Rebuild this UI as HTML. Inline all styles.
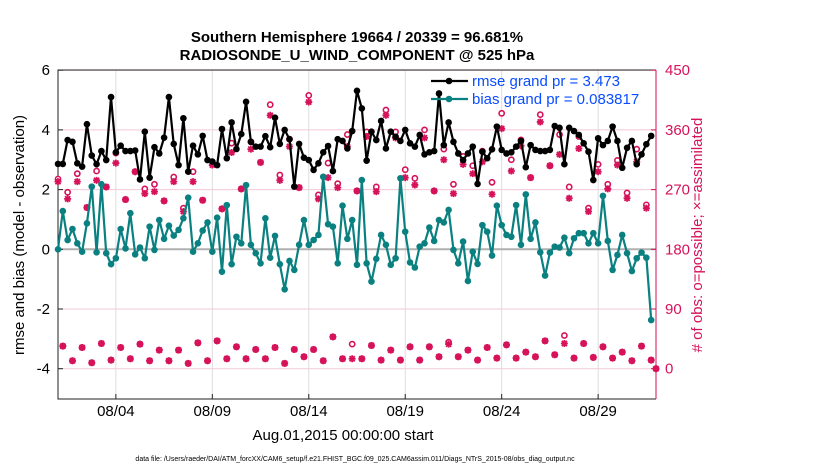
<!DOCTYPE html>
<html><head><meta charset="utf-8"><style>
body{margin:0;background:#fff;}
svg{display:block;font-family:"Liberation Sans",sans-serif;}
</style></head><body>
<svg id="chart" width="830" height="470" viewBox="0 0 830 470" xmlns="http://www.w3.org/2000/svg">
<rect width="830" height="470" fill="#fff"/>
<g id="grid"></g>
<g id="axes"></g>
<g id="obs"></g>
<g id="series"></g>
<text x="357" y="42" text-anchor="middle" font-size="15" font-weight="bold">Southern Hemisphere 19664 / 20339 = 96.681%</text>
<text x="357" y="60" text-anchor="middle" font-size="15" font-weight="bold">RADIOSONDE_U_WIND_COMPONENT @ 525 hPa</text>
<text x="343" y="440" text-anchor="middle" font-size="15">Aug.01,2015 00:00:00 start</text>
<text transform="translate(24,235) rotate(-90)" text-anchor="middle" font-size="15">rmse and bias (model - observation)</text>
<text transform="translate(702,235) rotate(-90)" text-anchor="middle" font-size="15" fill="#d6125a"># of obs: o=possible; ×=assimilated</text>
<text x="355" y="461" text-anchor="middle" font-size="7">data file: /Users/raeder/DAI/ATM_forcXX/CAM6_setup/f.e21.FHIST_BGC.f09_025.CAM6assim.011/Diags_NTrS_2015-08/obs_diag_output.nc</text>
<g id="legend"></g>
</svg>
<script>
const rmse=[2.86,2.86,3.66,3.6,2.88,2.77,4.19,3.14,2.85,3.29,2.99,5.1,3.25,3.47,3.29,3.29,3.31,2.34,3.94,2.4,3.42,3.21,3.74,5.1,3.53,2.82,4.39,2.6,3.47,3.18,3.8,2.99,
2.94,2.82,4.03,3.05,4.25,3.36,3.86,4.94,3.6,3.44,3.44,3.79,3.42,4.41,3.53,4.0,3.69,2.1,3.53,3.07,2.99,2.66,2.88,3.25,3.46,2.62,3.69,3.63,3.38,3.96,5.31,
4.72,2.97,3.94,3.66,4.3,3.38,3.94,3.77,3.63,4.0,3.55,3.44,3.83,3.18,3.25,3.29,5.22,3.49,4.25,3.6,3.21,2.99,3.21,3.44,2.19,3.27,3.05,3.35,4.11,3.33,3.21,
3.25,3.44,3.63,2.75,3.49,3.33,3.29,3.29,3.33,4.13,4.07,2.85,4.07,3.96,3.83,3.55,3.27,2.32,3.72,3.49,3.63,4.11,3.63,2.73,3.4,3.63,2.85,3.18,3.52,3.8];
const bias=[0,1.28,0.31,0.68,0.2,-0.08,0.87,2.1,-0.1,2.18,-0.13,-0.5,-0.3,0.68,0.03,1.21,-0.17,0.06,-0.3,0.76,-0.02,0.98,0.35,0.79,0.46,0.65,1.04,1.73,-0.08,0.2,0.63,0.9,
-0.08,1.06,-0.75,1.48,-0.5,0.42,0.2,2.15,0.15,-0.13,-0.47,1.04,-0.28,0.45,-0.5,-1.34,-0.39,-0.69,0.15,0.98,0.15,0.31,0.48,2.43,0.84,0.76,-0.47,1.46,0.35,0.98,
-0.52,2.32,-0.47,-1.08,-0.32,0.48,0.15,-0.52,-0.3,2.38,0.59,-0.44,-0.61,0.09,0.2,0.73,0.28,0.98,0.9,1.32,-0.02,-0.47,0.26,-1.06,-0.08,-0.49,0.81,0.59,-0.21,1.46,0.81,0.48,
0.42,1.48,0.15,1.84,0.35,0.9,-0.1,-0.88,-0.11,0.09,0.06,0.39,-0.13,0.37,0.54,0.54,0.2,0.54,0.2,1.79,0.28,-0.69,-0.19,0.48,-0.13,-0.73,-0.3,-0.11,-0.28,-2.37];
const assimilated=[282,34,256,12,282,32,243,9,284,38,274,13,310,32,255,15,297,37,264,12,267,28,253,12,282,28,237,8,282,39,254,12,
307,42,241,15,326,33,271,15,331,29,311,15,382,32,284,8,335,29,273,18,402,29,256,12,288,48,273,15,335,15,
268,15,350,35,267,13,382,28,348,13,288,33,277,13,348,33,268,18,315,37,264,18,308,28,294,13,312,32,263,16,362,36,
298,16,336,25,288,18,372,42,306,21,323,38,257,16,332,38,237,17,297,33,271,16,307,25,257,12,312,34,242,13,0];
const possibleOverrides={0:286,2:266,4:294,8:298,12:325,18:271,20:278,24:289,26:242,28:297,32:312,36:340,40:342,44:398,46:292,48:346,52:412,54:262,56:310,58:279,60:353,61:37,64:357,66:274,68:390,70:357,72:300,74:287,76:360,80:331,81:40,82:278,84:320,86:306,88:328,90:281,92:385,94:315,96:345,100:383,104:353,105:50,106:274,108:350,110:242,112:308,114:278,116:314,118:265,120:331,122:247};
const possible=assimilated.map((v,i)=>possibleOverrides[i]!==undefined?possibleOverrides[i]:v);
const leftTicks=[6,4,2,0,-2,-4];
const rightTicks=[450,360,270,180,90,0];
const dateTicks=[3,8,13,18,23,28];
const dateLabels=["08/04","08/09","08/14","08/19","08/24","08/29"];
const legendLabels=["rmse grand pr = 3.473","bias grand pr = 0.083817"];

const NS="http://www.w3.org/2000/svg";
const X0=58,X1=656,Y0=70,Y1=399;
const RED="#d6125a",TEAL="#0b8080";
function xDay(d){return X0+(d/31)*(X1-X0);}
function xIdx(i){return xDay(i*0.25);}
function yL(v){return 249.3-29.85*v;}
function yR(r){return yL(r/45-4);}
function mk(tag,attrs,parent){const e=document.createElementNS(NS,tag);for(const k in attrs)e.setAttribute(k,attrs[k]);parent.appendChild(e);return e;}

const grid=document.getElementById('grid'),axes=document.getElementById('axes'),obs=document.getElementById('obs'),series=document.getElementById('series');
// grid
leftTicks.forEach(t=>{if(t===0)return;const l=mk('line',{x1:X0,x2:X1,y1:yL(t),y2:yL(t),stroke:'#f3c8d6','stroke-width':1},grid);

});
dateTicks.forEach(d=>{const l=mk('line',{x1:xDay(d),x2:xDay(d),y1:Y0,y2:Y1,stroke:'#dcdcdc','stroke-width':1},grid);

});
const zl=mk('line',{x1:X0,x2:X1,y1:yL(0),y2:yL(0),stroke:'#b0b0b0','stroke-width':2},grid);


// axes box
const bx=mk('path',{d:`M${X1},${Y0}H${X0}V${Y1}H${X1}`,fill:'none',stroke:'#222','stroke-width':1},axes);


const ra=mk('line',{x1:X1,x2:X1,y1:Y0,y2:Y1,stroke:RED,'stroke-width':1},axes);


leftTicks.forEach(t=>{mk('line',{x1:X0,x2:X0+5,y1:yL(t),y2:yL(t),stroke:'#222'},axes);
const tx=mk('text',{x:X0-8,y:yL(t)+5,'text-anchor':'end','font-size':15},axes);tx.textContent=t;

});
rightTicks.forEach(t=>{mk('line',{x1:X1-5,x2:X1,y1:yR(t),y2:yR(t),stroke:RED},axes);
const tx=mk('text',{x:X1+9,y:yR(t)+5,'font-size':15,fill:RED},axes);tx.textContent=t;

});
dateTicks.forEach((d,k)=>{mk('line',{x1:xDay(d),x2:xDay(d),y1:Y1-5,y2:Y1,stroke:'#222'},axes);
const tx=mk('text',{x:xDay(d),y:Y1+17,'text-anchor':'middle','font-size':15},axes);tx.textContent=dateLabels[k];

});
// obs markers
function asterisk(x,y,parent){const s=3.5,d=2.6;
const g=mk('path',{d:`M${x-s},${y}H${x+s}M${x},${y-s}V${y+s}M${x-d},${y-d}L${x+d},${y+d}M${x-d},${y+d}L${x+d},${y-d}`,stroke:RED,'stroke-width':1.8,fill:'none'},parent);return g;}
possible.forEach((v,i)=>{const c=mk('circle',{cx:xIdx(i),cy:yR(v),r:2.6,fill:'#fff',stroke:RED,'stroke-width':1.6},obs);

});
assimilated.forEach((v,i)=>{const a=asterisk(xIdx(i),yR(v),obs);

});
// series
function drawSeries(vals,color,name){
const pts=vals.map((v,i)=>xIdx(i).toFixed(1)+','+yL(v).toFixed(1)).join(' ');
const pl=mk('polyline',{points:pts,fill:'none',stroke:color,'stroke-width':2.2,'stroke-linejoin':'round'},series);


vals.forEach((v,i)=>{const c=mk('circle',{cx:xIdx(i),cy:yL(v),r:3.3,fill:color},series);

});}
drawSeries(bias,TEAL,'bias');
drawSeries(rmse,'#000','rmse');
// legend
const lg=document.getElementById('legend');
[['#000',86],[TEAL,104]].forEach((c,k)=>{
mk('line',{x1:431,x2:468,y1:c[1]-5,y2:c[1]-5,stroke:c[0],'stroke-width':2.2},lg);
mk('circle',{cx:449,cy:c[1]-5,r:3.3,fill:c[0]},lg);
const t=mk('text',{x:472,y:c[1],'font-size':15,fill:'#0a4cff'},lg);t.textContent=legendLabels[k];

});
</script>
</body></html>
